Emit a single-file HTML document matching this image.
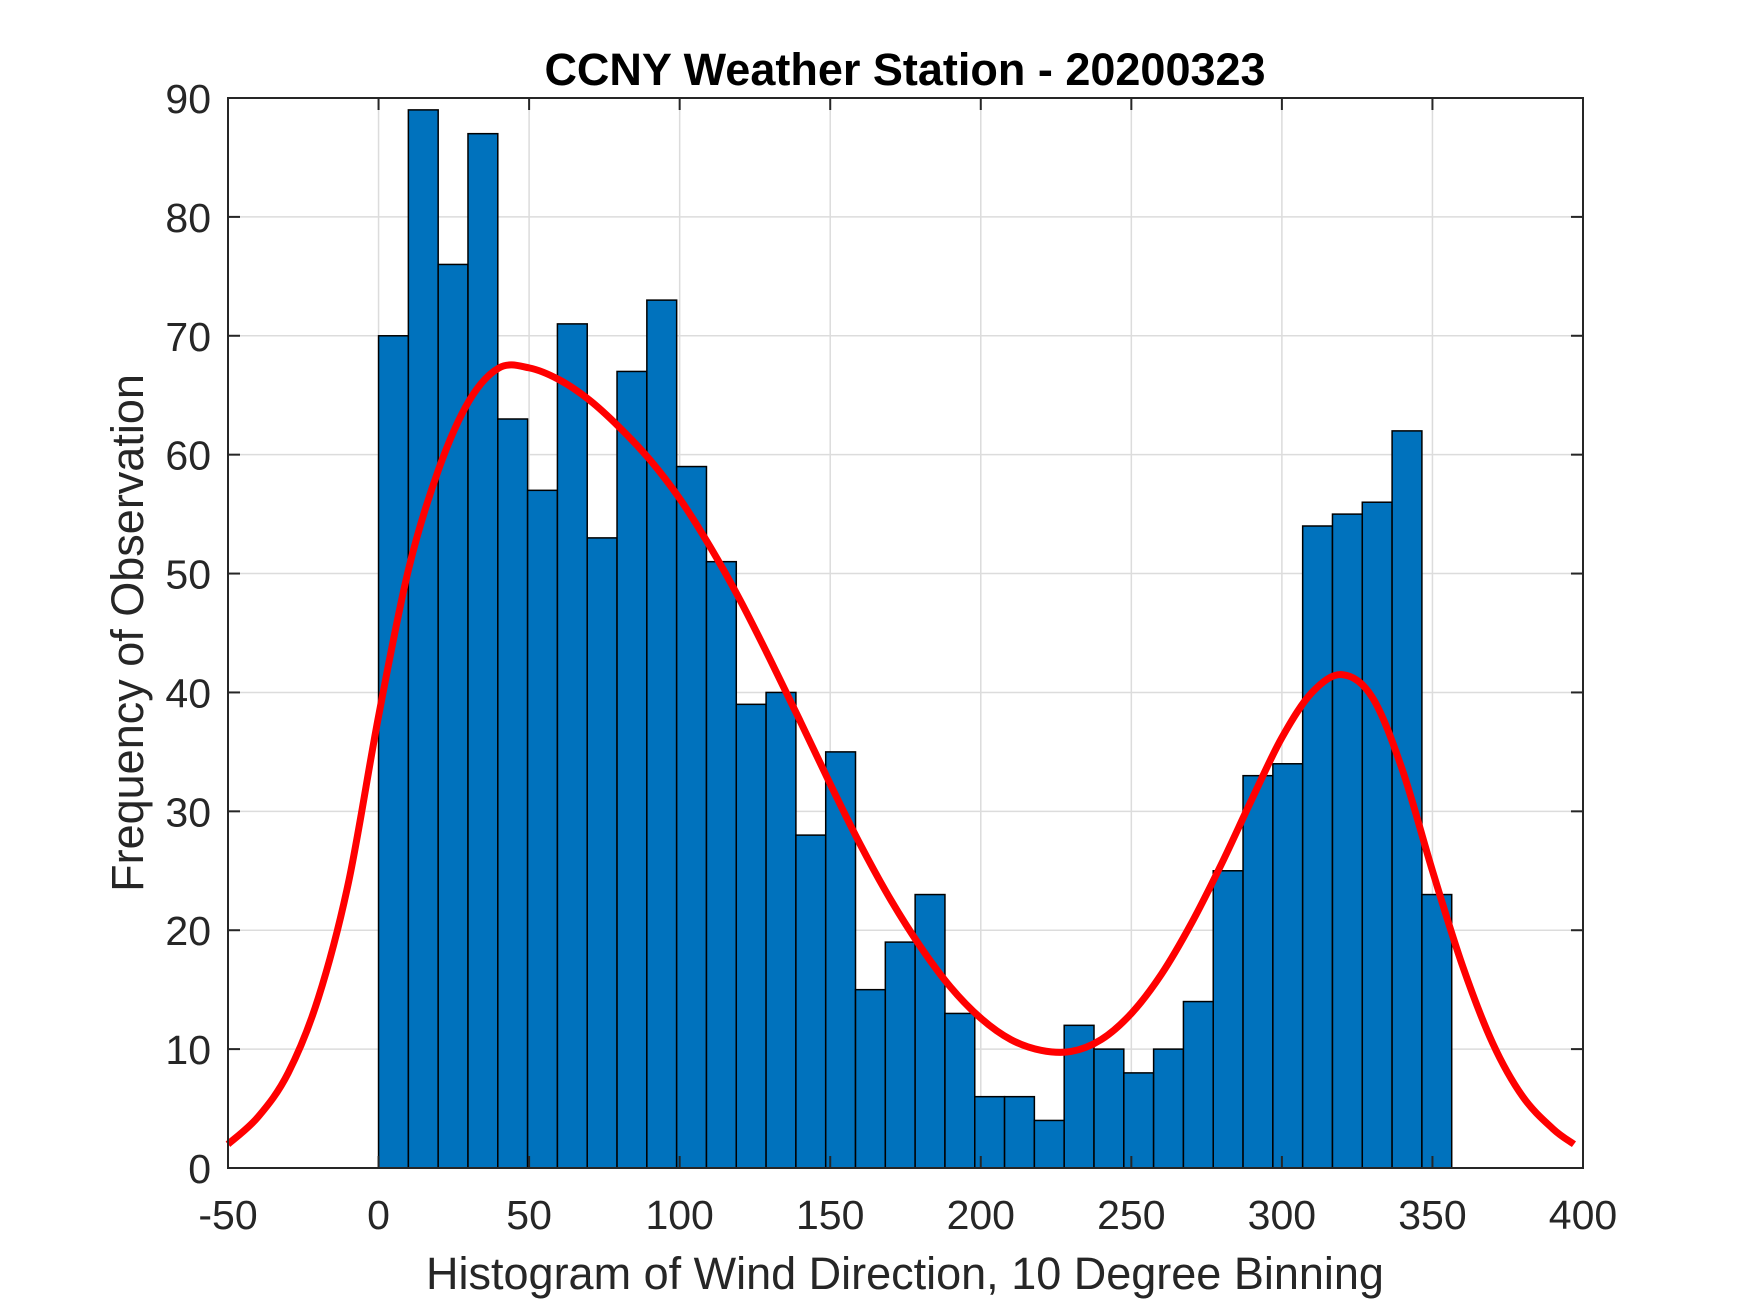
<!DOCTYPE html>
<html><head><meta charset="utf-8">
<style>
html,body{margin:0;padding:0;background:#fff;}
svg{display:block;font-family:"Liberation Sans",Arial,sans-serif;}
</style></head>
<body>
<svg id="chart" width="1750" height="1313" viewBox="0 0 1750 1313" xmlns="http://www.w3.org/2000/svg">
<rect width="1750" height="1313" fill="#fff"/>
<g id="grid"></g>
<g id="bars"></g>
<g id="curve"></g>
<g id="axes"></g>
<text x="905" y="85" text-anchor="middle" font-size="45" font-weight="bold" fill="#000">CCNY Weather Station - 20200323</text>
<text x="905" y="1289" text-anchor="middle" font-size="45" fill="#262626">Histogram of Wind Direction, 10 Degree Binning</text>
<text x="0" y="0" transform="translate(143,633) rotate(-90)" text-anchor="middle" font-size="45" fill="#262626">Frequency of Observation</text>
</svg>
<script>
const counts = [70,89,76,87,63,57,71,53,67,73,59,51,39,40,28,35,15,19,23,13,6,6,4,12,10,8,10,14,25,33,34,54,55,56,62,23];
const binStart = 0;
const binWidth = 9.9;
const fitX = [-50,-40,-30,-20,-10,0,10,20,30,40,50,60,70,80,90,100,110,120,130,140,150,160,170,180,190,200,210,220,230,240,250,260,270,280,290,300,310,320,330,340,350,360,370,380,390,397];
const fitY = [2,4.3,8,14.3,24,38,50.4,58.8,64.5,67.3,67.3,66.3,64.6,62.3,59.6,56.3,52.3,47.8,42.8,37.6,32.3,27.2,22.6,18.6,15.2,12.6,10.8,9.9,9.8,10.8,13,16.3,20.6,25.6,31,36.2,40,41.5,39.6,33.5,25,17,10.5,6,3.3,2];
const xTicks = [-50,0,50,100,150,200,250,300,350,400];
const yTicks = [0,10,20,30,40,50,60,70,80,90];

const L=228,R=1583,T=98,B=1168;
const xMin=-50,xMax=400,yMin=0,yMax=90;
const sx=v=>L+(v-xMin)/(xMax-xMin)*(R-L);
const sy=v=>B-(v-yMin)/(yMax-yMin)*(B-T);
const NS="http://www.w3.org/2000/svg";
function mk(tag,attrs,parent){const e=document.createElementNS(NS,tag);for(const k in attrs)e.setAttribute(k,attrs[k]);parent.appendChild(e);return e;}
const grid=document.getElementById('grid'),bars=document.getElementById('bars'),curve=document.getElementById('curve'),axes=document.getElementById('axes');

xTicks.forEach(t=>{
  const g=mk('line',{x1:sx(t),x2:sx(t),y1:T,y2:B,stroke:'#dcdcdc','stroke-width':1.5},grid);
  
  
});
yTicks.forEach(t=>{
  const g=mk('line',{x1:L,x2:R,y1:sy(t),y2:sy(t),stroke:'#dcdcdc','stroke-width':1.5},grid);
  
  
});

counts.forEach((c,i)=>{
  const x0=sx(binStart+i*binWidth),x1=sx(binStart+(i+1)*binWidth);
  const r=mk('rect',{x:x0,y:sy(c),width:x1-x0,height:sy(0)-sy(c),fill:'#0072bd',stroke:'#000','stroke-width':1.5},bars);
  
  
});

const pts=fitX.map((x,i)=>[sx(x),sy(fitY[i])]);
let d='M'+pts[0][0]+','+pts[0][1];
for(let i=0;i<pts.length-1;i++){
  const p0=pts[i-1]||pts[i],p1=pts[i],p2=pts[i+1],p3=pts[i+2]||pts[i+1];
  const c1=[p1[0]+(p2[0]-p0[0])/6,p1[1]+(p2[1]-p0[1])/6];
  const c2=[p2[0]-(p3[0]-p1[0])/6,p2[1]-(p3[1]-p1[1])/6];
  d+=` C${c1[0]},${c1[1]} ${c2[0]},${c2[1]} ${p2[0]},${p2[1]}`;
}
const path=mk('path',{d:d,fill:'none',stroke:'#ff0000','stroke-width':7,'stroke-linejoin':'round'},curve);



const box=mk('rect',{x:L,y:T,width:R-L,height:B-T,fill:'none',stroke:'#262626','stroke-width':2},axes);



xTicks.forEach(t=>{
  mk('line',{x1:sx(t),x2:sx(t),y1:B,y2:B-12,stroke:'#262626','stroke-width':2},axes);
  mk('line',{x1:sx(t),x2:sx(t),y1:T,y2:T+12,stroke:'#262626','stroke-width':2},axes);
  const tx=mk('text',{x:sx(t),y:1229,'text-anchor':'middle','font-size':41,fill:'#262626'},axes);
  tx.textContent=t;
  
  
});
yTicks.forEach(t=>{
  mk('line',{x1:L,x2:L+12,y1:sy(t),y2:sy(t),stroke:'#262626','stroke-width':2},axes);
  mk('line',{x1:R,x2:R-12,y1:sy(t),y2:sy(t),stroke:'#262626','stroke-width':2},axes);
  const tx=mk('text',{x:L-17,y:sy(t)+15,'text-anchor':'end','font-size':41,fill:'#262626'},axes);
  tx.textContent=t;
  
  
});
</script>
</body></html>
